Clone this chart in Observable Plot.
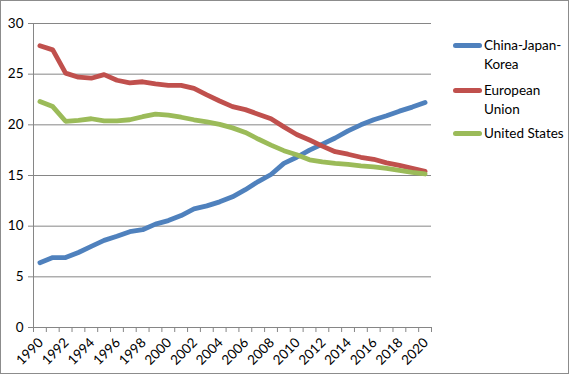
<!DOCTYPE html>
<html>
<head>
<meta charset="utf-8">
<script src="https://cdn.jsdelivr.net/npm/d3@7"></script>
<script src="https://cdn.jsdelivr.net/npm/@observablehq/plot@0.6"></script>
<style>
  html, body { margin: 0; padding: 0; background: #fff; }
  #chart { position: relative; width: 567px; height: 372px; border: 1px solid #8c8c8c; background: #fff; font-family: Lato, sans-serif; }
  #chart svg { position: absolute; left: 0; top: 0; }
  .leg { position: absolute; font-size: 13.5px; color: #000; line-height: 18.5px; }
  .sw { position: absolute; width: 29px; height: 5px; border-radius: 3px; }
</style>
</head>
<body>
<div id="chart"></div>
<script>
const years = d3.range(1990, 2021);
const seriesNames = ["China-Japan-Korea", "European Union", "United States"];
const seriesColors = ["#4f81bd", "#c0504d", "#9bbb59"];
const cjk = [6.4, 6.9, 6.9, 7.4, 8.0, 8.6, 9.0, 9.45, 9.65, 10.2, 10.55, 11.05, 11.7, 12.0, 12.4, 12.9, 13.6, 14.4, 15.1, 16.2, 16.8, 17.5, 18.1, 18.7, 19.4, 20.0, 20.5, 20.9, 21.35, 21.75, 22.2];
const eu = [27.8, 27.4, 25.1, 24.7, 24.6, 24.95, 24.4, 24.15, 24.25, 24.05, 23.9, 23.9, 23.6, 22.95, 22.35, 21.8, 21.5, 21.05, 20.6, 19.8, 19.05, 18.5, 17.9, 17.35, 17.1, 16.8, 16.6, 16.25, 16.0, 15.7, 15.4];
const us = [22.3, 21.8, 20.35, 20.45, 20.6, 20.4, 20.4, 20.5, 20.8, 21.05, 20.95, 20.75, 20.5, 20.3, 20.05, 19.7, 19.25, 18.6, 18.0, 17.45, 17.05, 16.55, 16.35, 16.2, 16.1, 15.95, 15.85, 15.7, 15.5, 15.3, 15.15];
const yTicks = [0, 5, 10, 15, 20, 25, 30];
const xLabelYears = years.filter(y => (y - 1990) % 2 === 0);

const values = [cjk, eu, us];
const data = [];
seriesNames.forEach((s, i) => years.forEach((yr, j) => data.push({series: s, year: yr, value: values[i][j]})));
const boundaries = years.map(y => y - 0.5).concat([years[years.length - 1] + 0.5]);

const grey = "#868686";
const plot = Plot.plot({
  width: 567,
  height: 372,
  marginLeft: 32,
  marginRight: 137,
  marginTop: 22,
  marginBottom: 46,
  style: {fontFamily: "Lato, sans-serif", fontSize: "13px", background: "transparent", overflow: "visible"},
  x: {type: "linear", domain: [boundaries[0], boundaries[boundaries.length - 1]], axis: null},
  y: {domain: [0, 30], axis: null},
  color: {domain: seriesNames, range: seriesColors},
  marks: [
    Plot.gridY(yTicks, {stroke: grey, strokeOpacity: 1}),
    Plot.ruleX([boundaries[0]], {stroke: grey}),
    Plot.axisY(yTicks, {tickSize: 5, tickPadding: 5, stroke: grey, fill: "#000", label: null, fontSize: 13.5}),
    Plot.axisX(boundaries, {tickSize: 5, stroke: grey, tickFormat: () => "", label: null}),
    Plot.axisX(xLabelYears, {tickSize: 0, tickPadding: 13, tickRotate: -45, tickFormat: d => String(d), fill: "#000", label: null, fontSize: 13.5, dx: 1}),
    Plot.line(data, {x: "year", y: "value", z: "series", stroke: "series", strokeWidth: 4.8, strokeLinejoin: "round", strokeLinecap: "round", curve: "linear"})
  ]
});
const chart = document.getElementById("chart");
chart.appendChild(plot);

// legend
const legendRows = [
  {lines: ["China-Japan-", "Korea"], top: 35},
  {lines: ["European", "Union"], top: 80},
  {lines: ["United States"], top: 123}
];
legendRows.forEach((r, i) => {
  const sw = document.createElement("div");
  sw.className = "sw";
  sw.style.background = seriesColors[i];
  sw.style.left = "452px";
  sw.style.top = (r.top + 7) + "px";
  chart.appendChild(sw);
  const t = document.createElement("div");
  t.className = "leg";
  t.style.left = "483px";
  t.style.top = r.top + "px";
  t.innerHTML = r.lines.join("<br>");
  chart.appendChild(t);
});
</script>
</body>
</html>
